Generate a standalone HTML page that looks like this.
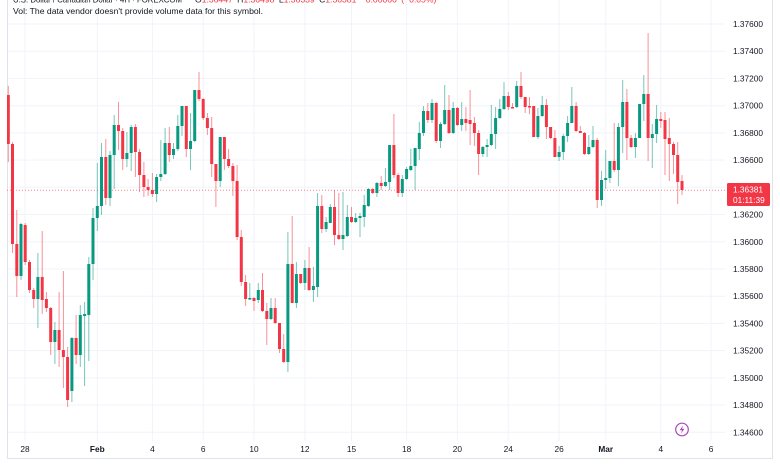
<!DOCTYPE html>
<html><head><meta charset="utf-8">
<style>
html,body{margin:0;padding:0;background:#fff;width:780px;height:470px;overflow:hidden}
svg{display:block}
text{font-family:"Liberation Sans",Arial,sans-serif;fill:#131722}
</style></head><body>
<svg width="780" height="470" viewBox="0 0 780 470" xmlns="http://www.w3.org/2000/svg">
<rect width="780" height="470" fill="#fff"/>
<defs><clipPath id="pane"><rect x="7" y="0" width="718" height="441"/></clipPath></defs>
<!-- horizontal grid -->
<g stroke="#f0f3fa" stroke-width="1">
<path d="M7 24H725M7 51.2H725M7 78.4H725M7 105.7H725M7 132.9H725M7 160.1H725M7 187.3H725M7 214.5H725M7 241.8H725M7 269H725M7 296.2H725M7 323.4H725M7 350.6H725M7 377.9H725M7 405.1H725M7 432.3H725"/>
<path d="M25 0V441M97.3 0V441M152.4 0V441M203.2 0V441M254 0V441M304.9 0V441M351.5 0V441M406.6 0V441M457.4 0V441M508.3 0V441M559.1 0V441M605.7 0V441M660.8 0V441M711 0V441"/>
</g>
<!-- pane borders -->
<g stroke="#e0e3eb" stroke-width="1" fill="none">
<path d="M7.5 0V458.5H772.5V0"/>
</g>
<!-- current price line -->
<path d="M7 190.2H727" stroke="#f23645" stroke-width="1" stroke-dasharray="1 2" opacity="0.6"/>
<g clip-path="url(#pane)" fill="none">
<path stroke="#f23645" stroke-width="1" stroke-opacity="0.55" d="M8.3 86V162M12.5 142V253M16.8 210V297M25.2 223V265M29.5 260V293M33.7 288V308M42.2 231V314M46.4 292V312M50.7 307V355M59.1 292V367M63.4 271V388M67.6 347V407M76.1 315V364M105.8 139V205M118.5 102V150M122.7 128V170M135.4 124V177M139.6 149V192M143.9 162V197M148.1 179V196M152.4 173V197M169.3 127V162M186.3 106V157M199 72V101M203.2 98V120M207.4 113V135M211.7 117V177M215.9 164V207M224.4 137V170M228.6 149V168M232.9 163V196M237.1 165V240M241.3 230V286M245.6 275V306M254 297V311M262.5 273V312M266.8 303V345M275.2 298V324M279.5 323V353M283.7 334V363M292.2 216V303M300.7 274V284M309.1 247V291M321.8 195V233M334.5 190V245M338.8 193V240M351.5 207V223M372.7 188V194M381.2 176V190M393.9 114V178M398.1 173V197M427.8 103V123M436.2 102V143M449 95V134M457.4 107V126M465.9 107V131M470.1 90V145M474.4 117V146M478.6 130V175M508.3 92V110M512.5 103V108M521 72V99M525.2 97V113M529.5 97V114M533.7 106V137M546.4 99V139M550.6 127V139M554.9 130V157M576.1 102V132M580.3 126V133M584.5 132V155M597.2 138V208M614.2 123V172M626.9 89V160M631.1 135V148M648.1 33V161M660.8 112V128M665 112V175M669.3 118V181M673.5 142V174M677.7 142V204M682 175V195"/>
<path stroke="#089981" stroke-width="1" stroke-opacity="0.55" d="M21 223V280M37.9 253V328M54.9 322V364M71.9 337V402M80.3 305V367M84.6 302V386M88.8 257V361M93 208V280M97.3 163V231M101.5 143V215M110 151V206M114.2 115V189M126.9 132V167M131.2 125V171M156.6 174V202M160.8 140V181M165.1 128V175M173.5 143V159M177.8 115V151M182 106V136M190.5 113V170M194.7 90V142M220.2 137V187M249.8 283V300M258.3 283V303M271 298V320M287.9 232V372M296.4 262V308M304.9 260V290M313.4 267V302M317.6 193V297M326.1 217V232M330.3 204V223M343 192V250M347.3 205V237M355.7 213V223M360 213V237M364.2 195V227M368.4 188V207M376.9 182V197M385.4 168V187M389.6 145V190M402.3 175V197M406.6 167V180M410.8 149V171M415.1 148V190M419.3 122V160M423.5 106V136M432 99V123M440.5 122V148M444.7 85V125M453.2 102V134M461.7 102V131M482.8 146V157M487.1 139V157M491.3 105V146M495.6 107V149M499.8 99V119M504 82V110M516.7 81V108M537.9 108V139M542.2 96V117M559.1 146V161M563.3 134V160M567.6 116V142M571.8 87V123M588.8 135V155M593 126V148M601.5 171V206M605.7 150V189M609.9 161V183M618.4 123V186M622.7 80V153M635.4 133V158M639.6 104V138M643.8 75V121M652.3 124V168M656.6 105V143"/>
<path stroke="#f23645" stroke-width="3" d="M8.3 95V144M12.5 144V244M16.8 244V276M25.2 225V262M29.5 262V290M33.7 290V299M42.2 277V300M46.4 299V308M50.7 308V342M59.1 330V350M63.4 350V357M67.6 357V400M76.1 338V355M105.8 157V198M118.5 125V131M122.7 131V159M135.4 127V152M139.6 152V175M143.9 175V187M148.1 187V190M152.4 190V194M169.3 143V155M186.3 106V149M199 90V99M203.2 99V118M207.4 118V128M211.7 128V164M215.9 164V181M224.4 137V159M228.6 159V166M232.9 166V181M237.1 181V237M241.3 237V282M245.6 282V299M254 298V301M262.5 290V311M266.8 311V319M275.2 308V323M279.5 323V349M283.7 349V362M292.2 264V303M300.7 274V283M309.1 268V290M321.8 206V229M334.5 207V235M338.8 235V239M351.5 217V222M372.7 189V193M381.2 183V186M393.9 145V175M398.1 175V193M427.8 111V120M436.2 103V141M449 110V133M457.4 108V125M465.9 119V123M470.1 120V124M474.4 123V133M478.6 133V154M508.3 96V107M512.5 107V108.5M521 86V97M525.2 97V107M529.5 106V107.5M533.7 106V137M546.4 105V127M550.6 127V138M554.9 138V157M576.1 106V131M580.3 131V133M584.5 133V154M597.2 140V200M614.2 161V170M626.9 102V138M631.1 138V147M648.1 94V138M660.8 119V121M665 120V139M669.3 138V144M673.5 144V155M677.7 155V182M682 181V190"/>
<path stroke="#089981" stroke-width="3" d="M21 224V276M37.9 277V299M54.9 330V342M71.9 338V391M80.3 315V355M84.6 314V316M88.8 264V315M93 218V264M97.3 206V218M101.5 157V206M110 155V198M114.2 125V155M126.9 153V159M131.2 127V153M156.6 177V194M160.8 174V177M165.1 143V174M173.5 149V155M177.8 126V149M182 106V126M190.5 141V149M194.7 90V141M220.2 137V181M249.8 298V299.5M258.3 290V300M271 308V319M287.9 264V362M296.4 274V303M304.9 268V283M313.4 286V290M317.6 206V287M326.1 222V229M330.3 207V223M343 235V239M347.3 217V236M355.7 218V222M360 216V218M364.2 205V217M368.4 189V206M376.9 183V193M385.4 182V186M389.6 145V182M402.3 179V193M406.6 169V179M410.8 166V170M415.1 148V166M419.3 133V149M423.5 111V133M432 103V120M440.5 124V141M444.7 110V124M453.2 108V133M461.7 119V125M482.8 147V154M487.1 145V147M491.3 134V145M495.6 118V134M499.8 109V118M504 96V109M516.7 86V107M537.9 116V137M542.2 105V116M559.1 152V157M563.3 136V152M567.6 123V136M571.8 106V123M588.8 147V154M593 140V147M601.5 180V200M605.7 178V180M609.9 161V178M618.4 127V170M622.7 102V127M635.4 138V147M639.6 104V138M643.8 94V104M652.3 134V138M656.6 119V134"/>
</g>
<!-- header -->
<text x="13" y="2.5" font-size="8.6" textLength="169" lengthAdjust="spacingAndGlyphs">U.S. Dollar / Canadian Dollar · 4H · FOREXCOM</text>
<text x="195" y="2.5" font-size="8.6" word-spacing="2">O<tspan fill="#f23645">1.36447</tspan> H<tspan fill="#f23645">1.36498</tspan> L<tspan fill="#f23645">1.36339</tspan> C<tspan fill="#f23645">1.36381</tspan> <tspan fill="#f23645">−0.00066 (−0.05%)</tspan></text>
<text x="13" y="13.8" font-size="8.6" textLength="250" lengthAdjust="spacingAndGlyphs">Vol: The data vendor doesn't provide volume data for this symbol.</text>
<!-- price axis labels -->
<g font-size="8.3">
<text x="733" y="27">1.37600</text>
<text x="733" y="54.2">1.37400</text>
<text x="733" y="81.4">1.37200</text>
<text x="733" y="108.7">1.37000</text>
<text x="733" y="135.9">1.36800</text>
<text x="733" y="163.1">1.36600</text>
<text x="733" y="217.5">1.36200</text>
<text x="733" y="244.8">1.36000</text>
<text x="733" y="272">1.35800</text>
<text x="733" y="299.2">1.35600</text>
<text x="733" y="326.4">1.35400</text>
<text x="733" y="353.6">1.35200</text>
<text x="733" y="380.9">1.35000</text>
<text x="733" y="408.1">1.34800</text>
<text x="733" y="435.3">1.34600</text>
</g>
<!-- current price label -->
<rect x="727" y="183" width="43" height="23" rx="1.5" fill="#f23645"/>
<text x="733" y="192.5" font-size="8.3" style="fill:#fff">1.36381</text>
<text x="733" y="203" font-size="8.3" style="fill:#fff">01:11:39</text>
<!-- time axis -->
<g font-size="8.3" text-anchor="middle">
<text x="25" y="452">28</text>
<text x="97.3" y="452" font-weight="bold">Feb</text>
<text x="152.4" y="452">4</text>
<text x="203.2" y="452">6</text>
<text x="254" y="452">10</text>
<text x="304.9" y="452">12</text>
<text x="351.5" y="452">15</text>
<text x="406.6" y="452">18</text>
<text x="457.4" y="452">20</text>
<text x="508.3" y="452">24</text>
<text x="559.1" y="452">26</text>
<text x="605.7" y="452" font-weight="bold">Mar</text>
<text x="660.8" y="452">4</text>
<text x="711" y="452">6</text>
</g>
<!-- lightning icon -->
<circle cx="682" cy="429.5" r="6.3" fill="#fff" stroke="#ab47bc" stroke-width="1.2"/>
<path d="M683.2 425.3L679.6 430.2H682.1L680.8 433.8L684.5 428.8H682Z" fill="#ab47bc"/>
</svg>
</body></html>
